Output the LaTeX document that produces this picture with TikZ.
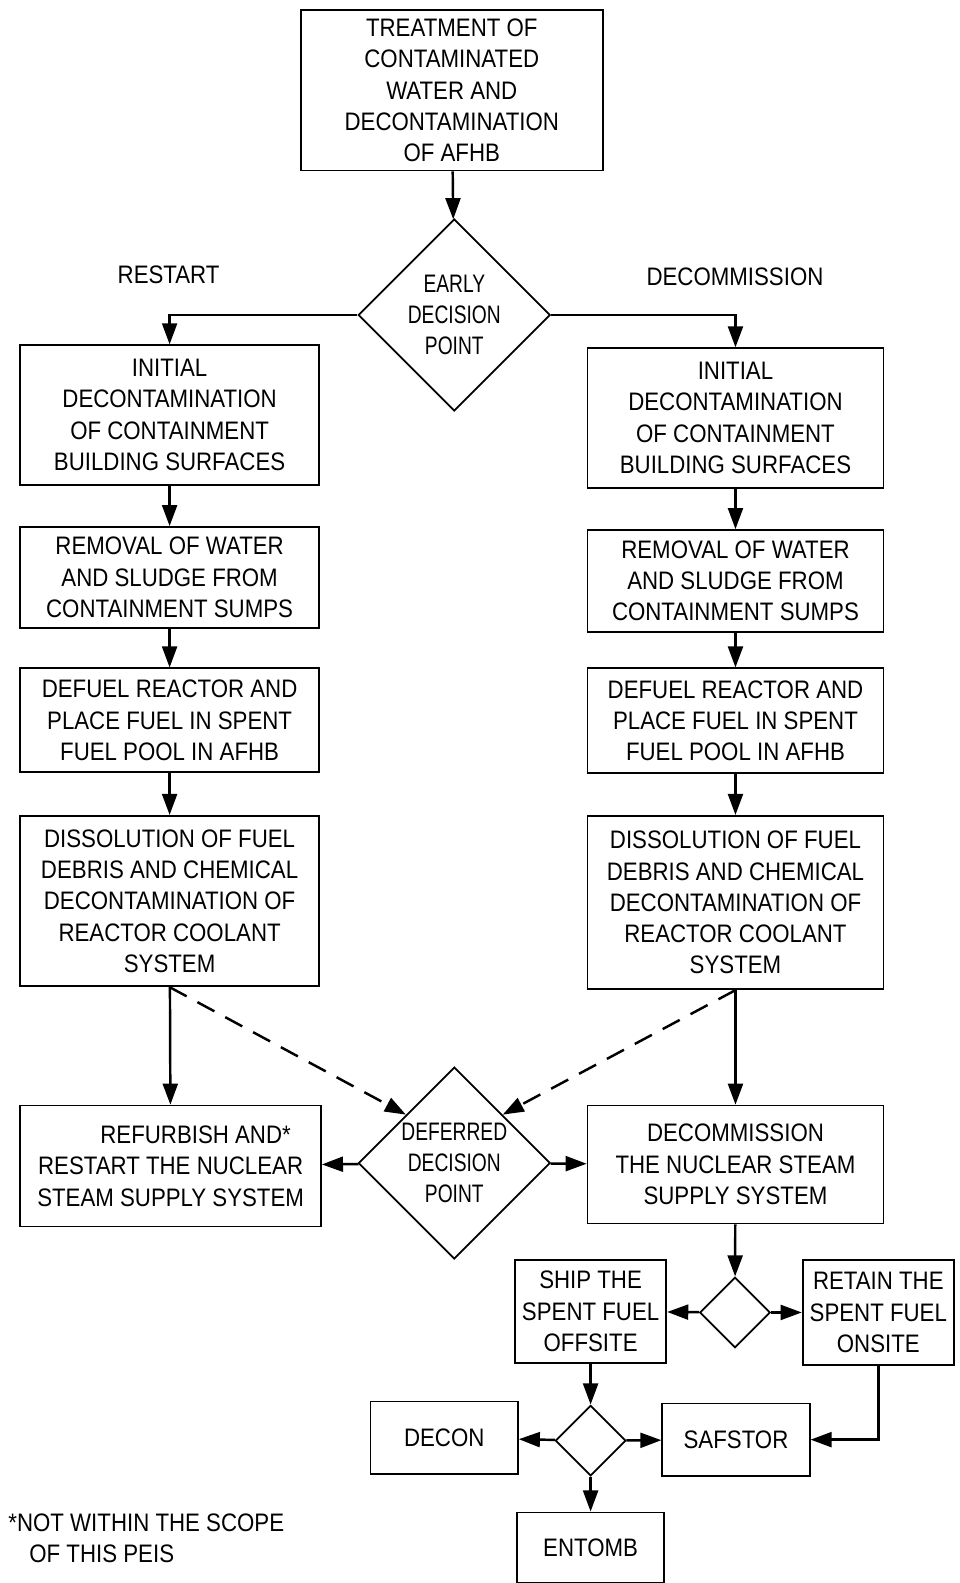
\documentclass[tikz,border=0pt]{standalone}
\usepackage{fontspec}
\setmainfont[FakeStretch=0.88]{Liberation Sans}
\newfontfamily\narrowfont[FakeStretch=0.76]{Liberation Sans}
\usepackage{tikz}
\usetikzlibrary{shapes.geometric,arrows.meta}
\tikzset{blk/.style={rectangle,draw,line width=1pt,align=center,inner sep=0pt,font=\fontsize{14.4}{17.8}\selectfont},
  dia/.style={diamond,draw,line width=1pt,align=center,inner sep=-4pt,font=\narrowfont\fontsize{14.4}{17.8}\selectfont},
  lbl/.style={align=left,inner sep=0pt,font=\fontsize{14.4}{17.8}\selectfont},
  arr/.style={-{Triangle[length=12pt,width=8.5pt]},line width=1.4pt}}

\begin{document}
\begin{tikzpicture}[x=0.0202cm,y=-0.0202cm]
    \useasboundingbox (0,0) rectangle (950,1568);
    \node[blk,minimum width=6.04cm,minimum height=3.21cm] (trt) at (447.5,89.5) {TREATMENT OF\\CONTAMINATED\\WATER AND\\DECONTAMINATION\\OF AFHB};
    \node[dia,minimum width=3.84cm,minimum height=3.84cm] (early) at (450,312) {EARLY\\DECISION\\POINT};
    \node[lbl] (rst) at (167,272) {RESTART};
    \node[lbl] (dcm) at (728,274) {DECOMMISSION};

    \node[blk,minimum width=5.98cm,minimum height=2.79cm] (linit) at (168,411) {INITIAL\\DECONTAMINATION\\OF CONTAINMENT\\BUILDING SURFACES};
    \node[blk,minimum width=5.98cm,minimum height=2.02cm] (lrem) at (168,572) {REMOVAL OF WATER\\AND SLUDGE FROM\\CONTAINMENT SUMPS};
    \node[blk,minimum width=5.98cm,minimum height=2.08cm] (ldef) at (168,713.5) {DEFUEL REACTOR AND\\PLACE FUEL IN SPENT\\FUEL POOL IN AFHB};
    \node[blk,minimum width=5.98cm,minimum height=3.41cm] (ldis) at (168,892.5) {DISSOLUTION OF FUEL\\DEBRIS AND CHEMICAL\\DECONTAMINATION OF\\REACTOR COOLANT\\SYSTEM};
    \node[blk,minimum width=6.02cm,minimum height=2.42cm] (lref) at (169,1155) {\hspace*{1.0cm}REFURBISH AND*\\RESTART THE NUCLEAR\\STEAM SUPPLY SYSTEM};

    \node[blk,minimum width=5.92cm,minimum height=2.79cm] (rinit) at (728.5,414) {INITIAL\\DECONTAMINATION\\OF CONTAINMENT\\BUILDING SURFACES};
    \node[blk,minimum width=5.92cm,minimum height=2.04cm] (rrem) at (728.5,575.5) {REMOVAL OF WATER\\AND SLUDGE FROM\\CONTAINMENT SUMPS};
    \node[blk,minimum width=5.92cm,minimum height=2.10cm] (rdef) at (728.5,714) {DEFUEL REACTOR AND\\PLACE FUEL IN SPENT\\FUEL POOL IN AFHB};
    \node[blk,minimum width=5.92cm,minimum height=3.47cm] (rdis) at (728.5,894) {DISSOLUTION OF FUEL\\DEBRIS AND CHEMICAL\\DECONTAMINATION OF\\REACTOR COOLANT\\SYSTEM};
    \node[blk,minimum width=5.92cm,minimum height=2.36cm] (rdec) at (728.5,1153.5) {DECOMMISSION\\THE NUCLEAR STEAM\\SUPPLY SYSTEM};

    \node[dia,minimum width=3.84cm,minimum height=3.84cm] (defer) at (450,1152) {DEFERRED\\DECISION\\POINT};
    \node[dia,minimum width=1.41cm,minimum height=1.41cm] (fuel) at (728,1300) {};
    \node[blk,minimum width=3.03cm,minimum height=2.06cm] (ship) at (585,1299) {SHIP THE\\SPENT FUEL\\OFFSITE};
    \node[blk,minimum width=3.03cm,minimum height=2.10cm] (keep) at (870,1300) {RETAIN THE\\SPENT FUEL\\ONSITE};
    \node[dia,minimum width=1.41cm,minimum height=1.41cm] (opt) at (585,1427) {};
    \node[blk,minimum width=2.95cm,minimum height=1.45cm] (decon) at (440,1424) {DECON};
    \node[blk,minimum width=2.95cm,minimum height=1.45cm] (safs) at (729,1426) {SAFSTOR};
    \node[blk,minimum width=2.95cm,minimum height=1.41cm] (ent) at (585,1533) {ENTOMB};
    \node[lbl,anchor=north west] (note) at (8,1499) {*NOT WITHIN THE SCOPE\\\hspace*{0.42cm}OF THIS PEIS};

    % main line
    \draw [arr] (trt) to (early);
    \draw [arr] (early.west) -| (linit.north);
    \draw [arr] (early.east) -| (rinit.north);
    \draw [arr] (linit) to (lrem);
    \draw [arr] (lrem) to (ldef);
    \draw [arr] (ldef) to (ldis);
    \draw [arr] (ldis) to (lref);
    \draw [arr] (rinit) to (rrem);
    \draw [arr] (rrem) to (rdef);
    \draw [arr] (rdef) to (rdis);
    \draw [arr] (rdis) to (rdec);
    \draw [arr,dash pattern=on 11pt off 7pt] (ldis.south) to (defer.north west);
    \draw [arr,dash pattern=on 11pt off 7pt] (rdis.south) to (defer.north east);
    \draw [arr] (defer) to (lref);
    \draw [arr] (defer) to (rdec);
    % spent fuel
    \draw [arr] (rdec) to (fuel);
    \draw [arr] (fuel) to (ship);
    \draw [arr] (fuel) to (keep);
    \draw [arr] (ship) to (opt);
    \draw [arr] (opt) to (decon);
    \draw [arr] (opt) to (safs);
    \draw [arr] (opt) to (ent);
    \draw [arr] (keep.south) |- (safs.east);
\end{tikzpicture}
\end{document}
